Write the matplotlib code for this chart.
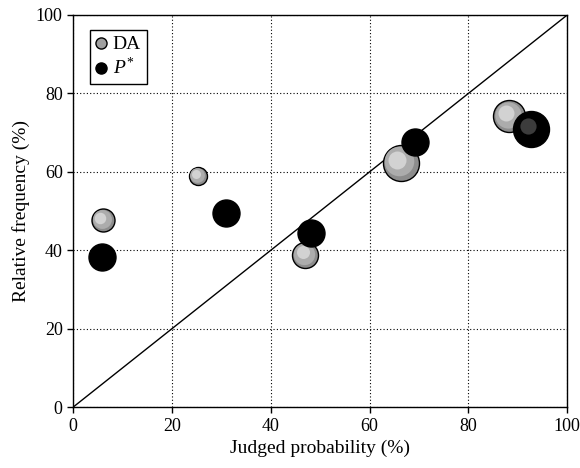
import matplotlib
matplotlib.use("Agg")
import matplotlib.pyplot as plt
from matplotlib.lines import Line2D
import matplotlib.transforms as mtransforms

plt.rcParams['font.family'] = ['Liberation Serif', 'DejaVu Serif']
plt.rcParams['mathtext.fontset'] = 'custom'
plt.rcParams['mathtext.it'] = 'Liberation Serif:italic'
plt.rcParams['mathtext.rm'] = 'Liberation Serif'

# data
da_x = [6.0, 25.3, 47.0, 66.3, 88.3]
da_y = [47.7, 58.9, 38.8, 62.2, 74.2]
da_size = [23, 18, 26, 36, 32]   # marker diameter (px)

p_x = [5.9, 31.0, 48.2, 69.2, 92.7]
p_y = [38.2, 49.6, 44.4, 67.7, 70.9]
p_size = [27, 27, 27, 27, 36]

ticks = [0, 20, 40, 60, 80, 100]

fig = plt.figure(figsize=(5.8, 4.68), dpi=100)
ax = fig.add_axes([0.126, 0.130, 0.852, 0.838])
ax.set_xlim(0, 100)
ax.set_ylim(0, 100)

ax.grid(True, linestyle=(0, (1, 2)), color='black', linewidth=0.8)
ax.set_axisbelow(True)
ax.plot([0, 100], [0, 100], color='black', linewidth=1.0, zorder=2)

PT = 0.72  # px -> pt at 100 dpi


def layer(x, y, ms, fc, dx, dy, z, mec='none', mew=0):
    tr = mtransforms.offset_copy(ax.transData, fig=fig, x=dx, y=dy, units='points')
    ax.plot([x], [y], 'o', ms=ms, mfc=fc, mec=mec, mew=mew, transform=tr, zorder=z)


z = 3
for x, y, d in zip(da_x, da_y, da_size):
    ms = d * PT
    ax.plot([x], [y], 'o', ms=ms, mfc='#8c8c8c', mec='black', mew=1.0, zorder=z)
    layer(x, y, ms * 0.82, '#acacac', -ms * 0.05, ms * 0.05, z + 0.1)
    layer(x, y, ms * 0.5, '#d2d2d2', -ms * 0.1, ms * 0.1, z + 0.2)
    z += 1
for x, y, d in zip(p_x, p_y, p_size):
    ms = d * PT
    ax.plot([x], [y], 'o', ms=ms, mfc='black', mec='black', mew=1.0, zorder=z)
    if d > 30:
        layer(x, y, ms * 0.45, '#3c3c3c', -ms * 0.1, ms * 0.1, z + 0.2)
    z += 1

ax.set_xticks(ticks)
ax.set_yticks(ticks)
ax.tick_params(direction='out', length=4, width=1, labelsize=13, top=False, right=False, colors='black')
for s in ax.spines.values():
    s.set_linewidth(1.0)
    s.set_color('black')
ax.set_xlabel('Judged probability (%)', fontsize=14)
ax.set_ylabel('Relative frequency (%)', fontsize=14)

handles = [
    Line2D([], [], marker='o', ls='none', ms=8, mfc='#a0a0a0', mec='black', mew=1.0),
    Line2D([], [], marker='o', ls='none', ms=8, mfc='black', mec='black', mew=1.0),
]
leg = ax.legend(handles, ['DA', r'$P^{*}$'], loc='upper left', bbox_to_anchor=(0.035, 0.962),
                borderaxespad=0,
                fontsize=14, frameon=True, fancybox=False, edgecolor='black',
                handlelength=0.5, handletextpad=0.35, borderpad=0.3, labelspacing=0.2,
                framealpha=1)
leg.get_frame().set_linewidth(1.0)

fig.savefig('out.png', dpi=100)
